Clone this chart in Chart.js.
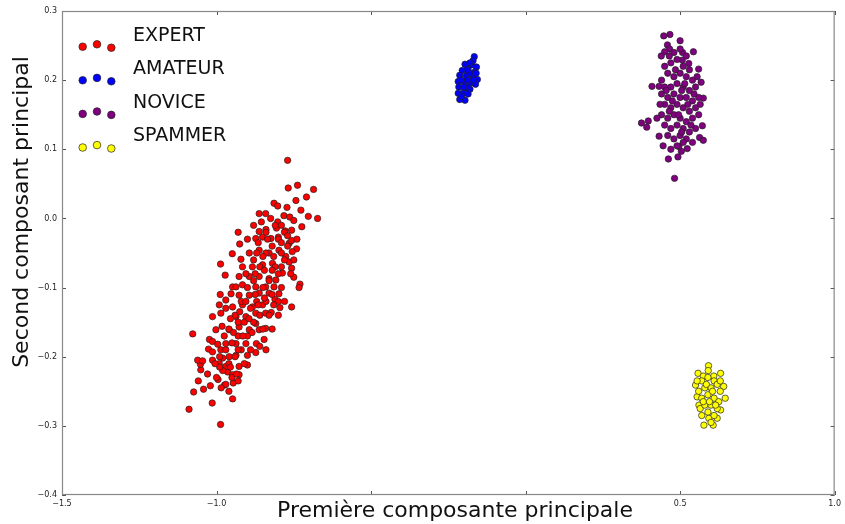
<!DOCTYPE html>
<html lang="fr">
<head>
    <meta charset="UTF-8">
    <title>ACP des profils</title>
    <script src="https://cdn.jsdelivr.net/npm/chart.js"></script>
    <style>
        body {
            margin: 0;
            padding: 0;
            background-color: #ffffff;
        }
    </style>
</head>
<body>

<canvas id="acpChart" width="845" height="524"></canvas>

<script>
    // Catégories et couleurs
    const categories = ['EXPERT', 'AMATEUR', 'NOVICE', 'SPAMMER'];
    const colors = ['#ff0000', '#0000ff', '#800080', '#ffff00'];

    // Ticks des axes
    const xTicks = [-1.5, -1.0, -0.5, 0.0, 0.5, 1.0];
    const xHidden = [-0.5, 0.0];
    const yTicks = [-0.4, -0.3, -0.2, -0.1, 0.0, 0.1, 0.2, 0.3];

    // Points [x, y]
    const expert = [
        [-0.770, 0.084], [-0.768, 0.044], [-0.738, 0.048], [-0.686, 0.042], [-0.743, 0.026],
        [-0.709, 0.031], [-0.814, 0.022], [-0.802, 0.018], [-0.772, 0.016], [-0.727, 0.012],
        [-0.673, 0.000], [-0.703, 0.003], [-0.862, 0.007], [-0.841, 0.007], [-0.782, 0.004],
        [-0.763, 0.002], [-0.750, -0.003], [-0.802, -0.005], [-0.724, -0.012], [-0.930, -0.020],
        [-0.862, -0.019], [-0.840, -0.016], [-0.806, -0.014], [-0.778, -0.018], [-0.757, -0.017],
        [-0.925, -0.037], [-0.873, -0.029], [-0.851, -0.027], [-0.824, -0.029], [-0.800, -0.027],
        [-0.765, -0.036], [-0.757, -0.032], [-0.741, -0.044], [-0.755, -0.048], [-0.949, -0.051],
        [-0.987, -0.066], [-0.972, -0.082], [-0.921, -0.059], [-0.894, -0.050], [-0.862, -0.046],
        [-0.830, -0.050], [-0.798, -0.046], [-0.776, -0.055], [-0.765, -0.063], [-0.757, -0.072],
        [-0.750, -0.085], [-0.730, -0.095], [-0.787, -0.079], [-0.916, -0.070], [-0.884, -0.070],
        [-0.851, -0.067], [-0.819, -0.065], [-0.927, -0.084], [-0.894, -0.084], [-0.862, -0.084],
        [-0.830, -0.087], [-0.808, -0.089], [-0.948, -0.099], [-0.916, -0.096], [-0.873, -0.099],
        [-0.841, -0.099], [-0.814, -0.099], [-0.733, -0.100], [-0.757, -0.128], [-0.795, -0.129],
        [-0.811, -0.117], [-0.988, -0.110], [-1.077, -0.167], [-1.089, -0.276], [-0.987, -0.298],
        [-1.014, -0.267], [-0.948, -0.261], [-1.074, -0.251], [-1.042, -0.247], [-1.020, -0.242],
        [-1.059, -0.235], [-0.974, -0.241], [-0.946, -0.238], [-0.930, -0.235], [-0.995, -0.233],
        [-1.029, -0.225], [-1.051, -0.219], [-1.052, -0.211], [-1.061, -0.205], [-1.045, -0.206],
        [-1.013, -0.205], [-0.991, -0.210], [-0.964, -0.222], [-0.948, -0.226], [-0.927, -0.226],
        [-0.927, -0.214], [-0.900, -0.212], [-0.900, -0.198], [-0.873, -0.194], [-0.871, -0.181],
        [-0.846, -0.175], [-1.023, -0.175], [-1.026, -0.189], [-1.013, -0.193], [-0.986, -0.190],
        [-0.959, -0.200], [-0.937, -0.198], [-0.980, -0.202], [-1.013, -0.178], [-0.996, -0.182],
        [-0.970, -0.181], [-0.937, -0.181], [-0.905, -0.181], [-1.002, -0.161], [-1.013, -0.142],
        [-0.982, -0.156], [-0.986, -0.137], [-0.991, -0.125], [-0.970, -0.118], [-0.953, -0.109],
        [-0.937, -0.099], [-0.959, -0.161], [-0.927, -0.157], [-0.894, -0.161], [-0.862, -0.161],
        [-0.873, -0.152], [-0.841, -0.159], [-0.937, -0.142], [-0.905, -0.142], [-0.873, -0.137],
        [-0.841, -0.137], [-0.823, -0.136], [-0.948, -0.128], [-0.916, -0.125], [-0.884, -0.128],
        [-0.851, -0.125], [-0.927, -0.111], [-0.894, -0.111], [-0.862, -0.108], [-0.830, -0.108],
        [-0.798, -0.109], [-0.970, -0.214], [-0.980, -0.220], [-0.960, -0.210], [-0.940, -0.200],
        [-0.970, -0.190], [-0.950, -0.180], [-0.920, -0.190], [-0.930, -0.170], [-0.900, -0.170],
        [-0.960, -0.160], [-0.910, -0.150], [-0.880, -0.150], [-0.940, -0.140], [-0.890, -0.130],
        [-0.860, -0.140], [-0.920, -0.120], [-0.870, -0.120], [-0.840, -0.120], [-0.900, -0.100],
        [-0.850, -0.100], [-0.820, -0.110], [-0.880, -0.090], [-0.830, -0.090], [-0.800, -0.080],
        [-0.860, -0.070], [-0.810, -0.070], [-0.780, -0.060], [-0.840, -0.050], [-0.790, -0.050],
        [-0.820, -0.040], [-0.770, -0.040], [-0.800, -0.030], [-0.780, -0.020], [-0.990, -0.200],
        [-1.000, -0.230], [-0.970, -0.240], [-0.950, -0.230], [-0.910, -0.210], [-0.890, -0.190],
        [-0.930, -0.150], [-0.970, -0.130], [-0.850, -0.160], [-0.830, -0.140], [-0.800, -0.120],
        [-0.790, -0.100], [-0.760, -0.080], [-0.870, -0.050], [-0.840, -0.020], [-0.810, -0.010],
        [-0.880, -0.060], [-0.850, -0.055], [-0.820, -0.075], [-0.790, -0.070], [-0.865, -0.035],
        [-0.835, -0.030], [-0.815, -0.055], [-0.790, -0.035], [-0.770, -0.025], [-0.855, -0.005],
        [-0.825, 0.000], [-0.790, -0.010], [-0.905, -0.080], [-0.875, -0.080], [-0.845, -0.075],
        [-0.905, -0.120], [-0.875, -0.110], [-0.845, -0.115], [-0.815, -0.125], [-0.955, -0.145],
        [-0.925, -0.135], [-0.895, -0.145], [-0.865, -0.125], [-0.975, -0.170], [-0.945, -0.165],
        [-0.915, -0.170], [-0.885, -0.165], [-0.990, -0.215], [-0.955, -0.215], [-0.935, -0.225],
        [-1.005, -0.210], [-0.985, -0.245], [-0.960, -0.250], [-0.930, -0.190], [-0.860, -0.185],
        [-0.840, -0.190], [-0.820, -0.160], [-0.800, -0.140], [-0.780, -0.120], [-0.900, -0.030],
        [-0.880, -0.010], [-0.750, -0.060], [-0.740, -0.030]
    ];

    const amateur = [
        [-0.166, 0.234], [-0.170, 0.228], [-0.196, 0.223], [-0.175, 0.222], [-0.159, 0.219],
        [-0.205, 0.214], [-0.186, 0.215], [-0.164, 0.212], [-0.213, 0.207], [-0.192, 0.206],
        [-0.170, 0.205], [-0.156, 0.201], [-0.218, 0.198], [-0.199, 0.198], [-0.177, 0.196],
        [-0.162, 0.194], [-0.216, 0.190], [-0.196, 0.188], [-0.180, 0.187], [-0.218, 0.181],
        [-0.202, 0.181], [-0.186, 0.180], [-0.213, 0.172], [-0.196, 0.171], [-0.207, 0.176],
        [-0.188, 0.200], [-0.180, 0.210], [-0.190, 0.190], [-0.170, 0.200], [-0.200, 0.190],
        [-0.180, 0.225], [-0.160, 0.210], [-0.210, 0.200], [-0.190, 0.215]
    ];

    const novice = [
        [0.447, 0.264], [0.467, 0.266], [0.500, 0.257], [0.459, 0.251], [0.466, 0.245],
        [0.450, 0.241], [0.439, 0.235], [0.508, 0.240], [0.543, 0.241], [0.507, 0.229],
        [0.528, 0.224], [0.560, 0.216], [0.568, 0.197], [0.409, 0.191], [0.432, 0.191],
        [0.575, 0.174], [0.375, 0.138], [0.397, 0.141], [0.392, 0.132], [0.572, 0.134],
        [0.563, 0.117], [0.575, 0.113], [0.432, 0.119], [0.445, 0.105], [0.462, 0.086],
        [0.493, 0.089], [0.504, 0.097], [0.523, 0.101], [0.496, 0.104], [0.482, 0.058],
        [0.450, 0.220], [0.470, 0.225], [0.490, 0.230], [0.510, 0.220], [0.530, 0.215],
        [0.460, 0.210], [0.480, 0.205], [0.500, 0.210], [0.520, 0.205], [0.540, 0.200],
        [0.440, 0.200], [0.450, 0.190], [0.470, 0.190], [0.490, 0.195], [0.510, 0.190],
        [0.530, 0.185], [0.550, 0.190], [0.440, 0.180], [0.460, 0.175], [0.480, 0.180],
        [0.500, 0.175], [0.520, 0.175], [0.540, 0.170], [0.560, 0.175], [0.450, 0.165],
        [0.470, 0.160], [0.490, 0.165], [0.510, 0.160], [0.530, 0.155], [0.550, 0.160],
        [0.440, 0.150], [0.460, 0.145], [0.480, 0.150], [0.500, 0.145], [0.520, 0.140],
        [0.540, 0.145], [0.560, 0.150], [0.450, 0.135], [0.470, 0.130], [0.490, 0.135],
        [0.510, 0.130], [0.530, 0.125], [0.550, 0.130], [0.460, 0.120], [0.480, 0.115],
        [0.500, 0.120], [0.520, 0.115], [0.540, 0.110], [0.470, 0.100], [0.490, 0.105],
        [0.510, 0.110], [0.480, 0.240], [0.500, 0.245], [0.465, 0.235], [0.520, 0.235],
        [0.435, 0.165], [0.425, 0.145], [0.565, 0.165], [0.555, 0.205], [0.485, 0.215],
        [0.505, 0.185], [0.475, 0.170], [0.525, 0.165], [0.495, 0.150], [0.465, 0.155],
        [0.535, 0.135], [0.505, 0.125], [0.545, 0.180], [0.455, 0.185], [0.515, 0.195]
    ];

    const spammer = [
        [0.592, -0.213], [0.591, -0.220], [0.558, -0.224], [0.575, -0.228], [0.609, -0.228],
        [0.631, -0.224], [0.550, -0.241], [0.641, -0.243], [0.646, -0.260], [0.555, -0.258],
        [0.561, -0.270], [0.631, -0.277], [0.577, -0.299], [0.607, -0.299], [0.593, -0.289],
        [0.620, -0.289], [0.570, -0.235], [0.590, -0.230], [0.610, -0.235], [0.620, -0.240],
        [0.560, -0.250], [0.580, -0.245], [0.600, -0.245], [0.630, -0.250], [0.570, -0.260],
        [0.590, -0.255], [0.610, -0.260], [0.625, -0.265], [0.565, -0.275], [0.580, -0.270],
        [0.600, -0.270], [0.620, -0.275], [0.570, -0.285], [0.590, -0.280], [0.610, -0.285],
        [0.600, -0.295], [0.585, -0.240], [0.605, -0.250], [0.575, -0.265], [0.615, -0.270],
        [0.595, -0.265], [0.630, -0.235], [0.555, -0.235]
    ];

    const series = [expert, amateur, novice, spammer];

    const FONT = "'DejaVu Sans', sans-serif";

    function fmt(v) {
        const s = Math.abs(v).toFixed(1);
        return v < -1e-9 ? '\u2212' + s : s;
    }

    // Cadre, ticks intérieurs, titres des axes et légende (3 marqueurs par entrée)
    const decorations = {
        id: 'decorations',
        afterDraw(chart) {
            const { ctx, chartArea: a, scales: { x, y } } = chart;
            ctx.save();

            ctx.strokeStyle = '#555';
            ctx.lineWidth = 1;
            ctx.beginPath();
            xTicks.forEach(v => {
                const px = Math.round(x.getPixelForValue(v)) + 0.5;
                ctx.moveTo(px, a.bottom); ctx.lineTo(px, a.bottom - 4);
                ctx.moveTo(px, a.top); ctx.lineTo(px, a.top + 4);
            });
            yTicks.forEach(v => {
                const py = Math.round(y.getPixelForValue(v)) + 0.5;
                ctx.moveTo(a.left, py); ctx.lineTo(a.left + 4, py);
                ctx.moveTo(a.right, py); ctx.lineTo(a.right - 4, py);
            });
            ctx.stroke();

            ctx.strokeStyle = '#888';
            ctx.lineWidth = 1.2;
            ctx.strokeRect(a.left + 0.5, a.top + 0.5, a.width - 1, a.height - 1);

            // titres
            ctx.fillStyle = '#111';
            ctx.font = '22px ' + FONT;
            ctx.textAlign = 'center';
            ctx.textBaseline = 'middle';
            ctx.fillText('Première composante principale', 455, 511);
            ctx.save();
            ctx.translate(22, 212);
            ctx.rotate(-Math.PI / 2);
            ctx.fillText('Second composant principal', 0, 0);
            ctx.restore();

            // légende
            const mx = [82.7, 97, 111.3];
            const dy = [0, -2.4, 1];
            categories.forEach((name, i) => {
                const base = 46.7 + i * 33.6;
                mx.forEach((xx, k) => {
                    ctx.beginPath();
                    ctx.arc(xx, base + dy[k], 3.8, 0, Math.PI * 2);
                    ctx.fillStyle = colors[i];
                    ctx.fill();
                    ctx.lineWidth = 0.7;
                    ctx.strokeStyle = '#222';
                    ctx.stroke();
                });
                ctx.fillStyle = '#111';
                ctx.font = '19px ' + FONT;
                ctx.textAlign = 'left';
                ctx.textBaseline = 'middle';
                ctx.fillText(name, 133, 36 + i * 33.5);
            });

            ctx.restore();
        }
    };

    new Chart(document.getElementById('acpChart').getContext('2d'), {
        type: 'scatter',
        data: {
            datasets: series.map((pts, i) => ({
                label: categories[i],
                data: pts.map(p => ({ x: p[0], y: p[1] })),
                backgroundColor: colors[i],
                borderColor: '#222',
                borderWidth: 0.7,
                pointRadius: 3.2,
                pointHoverRadius: 3.2
            }))
        },
        options: {
            responsive: false,
            animation: false,
            devicePixelRatio: 1,
            layout: { padding: { top: 11, right: 7, left: 0, bottom: 0 } },
            plugins: {
                legend: { display: false },
                tooltip: { enabled: false }
            },
            scales: {
                x: {
                    type: 'linear',
                    min: -1.5,
                    max: 1.0,
                    afterFit: s => { s.height = 29; },
                    afterBuildTicks: s => { s.ticks = xTicks.map(v => ({ value: v })); },
                    grid: { display: false, drawTicks: false },
                    border: { display: false },
                    ticks: {
                        padding: 4,
                        color: '#222',
                        font: { family: FONT, size: 8 },
                        maxRotation: 0,
                        autoSkip: false,
                        callback: v => xHidden.some(h => Math.abs(h - v) < 1e-9) ? '' : fmt(v)
                    }
                },
                y: {
                    type: 'linear',
                    min: -0.4,
                    max: 0.3,
                    afterFit: s => { s.width = 62; },
                    afterBuildTicks: s => { s.ticks = yTicks.map(v => ({ value: v })); },
                    grid: { display: false, drawTicks: false },
                    border: { display: false },
                    ticks: {
                        padding: 5,
                        color: '#222',
                        font: { family: FONT, size: 8 },
                        autoSkip: false,
                        callback: v => fmt(v)
                    }
                }
            }
        },
        plugins: [decorations]
    });
</script>
</body>
</html>
